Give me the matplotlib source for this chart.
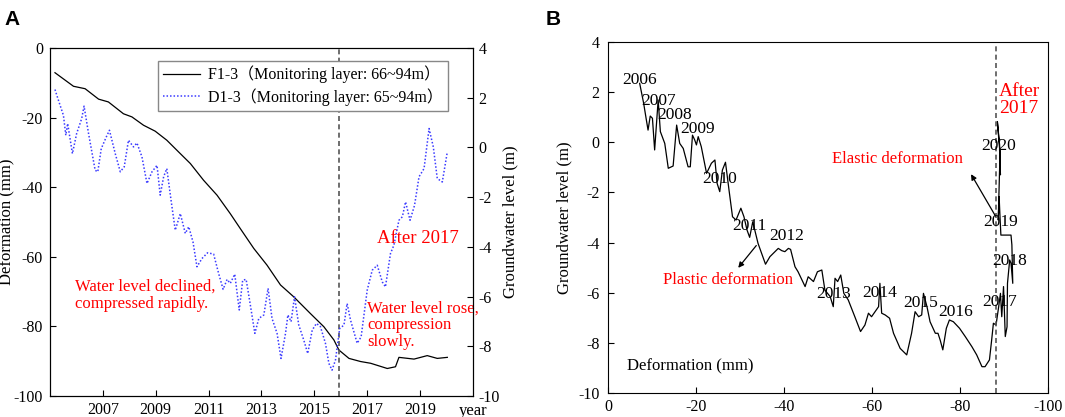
import matplotlib
matplotlib.use("Agg")
import matplotlib.pyplot as plt
from matplotlib.lines import Line2D

plt.rcParams['font.family'] = ['Liberation Serif', 'Noto Sans CJK SC', 'DejaVu Sans']
plt.rcParams['font.size'] = 12
plt.rcParams['axes.unicode_minus'] = False
plt.rcParams['xtick.labelsize'] = 11.5
plt.rcParams['ytick.labelsize'] = 11.5

# ---- panel A: deformation (F1-3) and groundwater level (D1-3) vs time ----
f_year = [2005.19, 2005.89, 2006.33, 2006.84, 2007.21, 2007.78, 2008.10, 2008.54, 2008.98,
          2009.42, 2009.87, 2010.31, 2010.81, 2011.32, 2011.82, 2012.20, 2012.71, 2013.21,
          2013.72, 2014.22, 2014.85, 2015.36, 2015.74, 2015.93, 2016.31, 2016.75, 2017.13,
          2017.76, 2018.07, 2018.20, 2018.77, 2019.27, 2019.65, 2020.03]
f_def = [-7.1, -11.0, -11.7, -14.7, -15.5, -18.9, -19.8, -22.2, -23.9,
         -26.5, -29.9, -33.2, -38.0, -42.3, -47.6, -51.9, -57.6, -62.4,
         -68.1, -71.5, -76.3, -80.1, -83.9, -86.8, -89.2, -90.1, -90.6,
         -92.1, -91.6, -88.9, -89.4, -88.4, -89.2, -88.9]

d_year = [2005.19, 2005.32, 2005.51, 2005.60, 2005.67, 2005.85, 2006.01, 2006.20, 2006.29,
          2006.46, 2006.71, 2006.81, 2006.94, 2007.13, 2007.25, 2007.47, 2007.66, 2007.81,
          2007.97, 2008.16, 2008.29, 2008.48, 2008.67, 2008.86, 2009.05, 2009.17, 2009.30,
          2009.42, 2009.58, 2009.74, 2009.93, 2010.12, 2010.25, 2010.41, 2010.56, 2010.75,
          2010.96, 2011.19, 2011.38, 2011.55, 2011.70, 2011.82, 2011.99, 2012.16, 2012.29,
          2012.42, 2012.56, 2012.75, 2012.90, 2013.09, 2013.25, 2013.40, 2013.59, 2013.74,
          2013.91, 2014.00, 2014.12, 2014.25, 2014.41, 2014.60, 2014.75, 2014.92, 2015.08,
          2015.23, 2015.42, 2015.55, 2015.67, 2015.80, 2015.96, 2016.12, 2016.24, 2016.37,
          2016.62, 2016.77, 2017.00, 2017.19, 2017.38, 2017.57, 2017.69, 2017.88, 2018.01,
          2018.20, 2018.33, 2018.45, 2018.62, 2018.79, 2018.96, 2019.15, 2019.34, 2019.50,
          2019.65, 2019.84, 2020.03]
d_gw = [2.33, 1.90, 1.29, 0.49, 0.96, -0.25, 0.56, 1.16, 1.66,
        0.56, -0.92, -0.98, -0.05, 0.42, 0.69, -0.25, -0.98, -0.78,
        0.29, 0.02, 0.18, -0.38, -1.45, -0.98, -0.72, -1.92, -1.18,
        -0.85, -2.12, -3.33, -2.66, -3.46, -3.19, -3.80, -4.80, -4.47,
        -4.24, -4.29, -5.07, -5.71, -5.31, -5.47, -5.10, -6.54, -5.34,
        -5.31, -6.21, -7.48, -6.88, -6.74, -5.67, -6.88, -7.48, -8.49,
        -7.48, -6.74, -7.01, -6.01, -7.14, -7.75, -8.29, -7.35, -7.08,
        -7.21, -7.88, -8.69, -8.96, -8.55, -7.28, -7.15, -6.28, -6.95,
        -7.88, -7.62, -5.74, -4.94, -4.74, -5.41, -5.61, -4.27, -3.93,
        -2.93, -2.79, -2.19, -2.93, -2.33, -1.18, -0.85, 0.76, 0.02,
        -1.25, -1.39, -0.18]

year_ticks = [2007, 2009, 2011, 2013, 2015, 2017, 2019]

# ---- panel B: groundwater level vs deformation ----
b_def = [-7.2, -8.1, -8.6, -9.1, -9.6, -10.1, -10.6, -11.4, -11.9, -12.9, -13.7, -14.8,
         -15.6, -16.3, -17.1, -18.2, -18.7, -19.2, -19.7, -20.1, -20.5, -21.2, -22.4, -23.5,
         -24.3, -24.8, -25.4, -26.0, -26.7, -27.5, -28.3, -29.1, -30.2, -30.9, -31.6, -32.2,
         -32.9, -34.1, -35.8, -36.8, -38.7, -39.5, -40.2, -41.0, -41.5, -42.5, -43.2, -44.8,
         -45.5, -46.7, -47.6, -48.6, -49.3, -50.5, -51.2, -51.6, -52.2, -52.9, -53.6, -54.6,
         -56.1, -57.4, -58.4, -59.2, -59.9, -60.7, -61.5, -61.8, -62.2, -63.0, -64.0, -64.9,
         -66.4, -67.9, -69.0, -69.8, -70.6, -71.3, -71.7, -72.5, -73.2, -74.4, -75.0, -75.5,
         -76.1, -76.9, -77.6, -78.5, -79.9, -81.2, -82.7, -83.8, -85.0, -85.7, -86.7, -87.2,
         -87.6, -88.2, -88.8, -89.2, -89.5, -89.9, -90.3, -90.7, -90.8, -91.3, -91.6, -92.0,
         -91.8, -91.6, -89.3, -89.1, -88.9, -88.7, -89.1, -88.5, -89.0, -89.2, -89.0]
b_gw = [2.34, 1.55, 1.01, 0.48, 1.04, 0.95, -0.31, 1.68, 0.42, -0.05, -1.04, -0.95,
        0.68, -0.05, -0.25, -0.98, -0.98, 0.28, 0.09, -0.11, 0.22, -0.18, -1.24, -0.84,
        -0.71, -1.64, -1.97, -1.11, -0.80, -1.90, -2.97, -3.10, -2.63, -2.97, -3.50, -3.79,
        -3.17, -4.03, -4.86, -4.56, -4.23, -4.32, -4.36, -4.23, -4.27, -4.96, -5.16, -5.75,
        -5.36, -5.55, -5.16, -5.09, -5.89, -6.15, -6.55, -5.42, -5.55, -5.29, -6.02, -6.28,
        -6.95, -7.54, -7.28, -6.81, -6.95, -6.75, -6.55, -5.62, -6.81, -6.88, -7.01, -7.61,
        -8.21, -8.47, -7.61, -6.75, -6.95, -6.88, -6.02, -6.55, -7.15, -7.61, -7.61, -7.88,
        -8.27, -7.41, -7.08, -7.15, -7.41, -7.74, -8.14, -8.47, -8.94, -8.94, -8.67, -7.88,
        -7.21, -7.28, -6.55, -6.02, -6.95, -5.75, -7.74, -7.35, -5.62, -4.69, -4.82, -5.62,
        -4.09, -3.70, -3.70, -2.97, -2.17, -3.10, -0.45, 0.82, -0.10, -1.30, -0.30]

# year labels along the curve in B
lab_text = ['2006', '2007', '2008', '2009', '2010', '2011', '2012', '2013', '2014',
            '2015', '2016', '2017', '2018', '2019', '2020']
lab_x = [-7.1, -11.4, -15.2, -20.3, -25.4, -32.2, -40.7, -51.2, -61.7,
         -71.1, -79.1, -89.0, -91.2, -89.3, -88.8]
lab_y = [2.47, 1.64, 1.08, 0.51, -1.47, -3.32, -3.74, -6.06, -6.02,
         -6.39, -6.75, -6.35, -4.73, -3.19, -0.14]

RED = '#ff0000'
BLUE = '#3a3aff'

fig = plt.figure(figsize=(10.65, 4.17), dpi=100)

# ================= A =================
ax = fig.add_axes([0.0469, 0.0504, 0.3972, 0.8345])
ax2 = ax.twinx()

ax.plot(f_year, f_def, color='black', lw=0.9)
ax2.plot(d_year, d_gw, color=BLUE, lw=1.1, linestyle=(0, (1, 1.3)))
ax.axvline(2015.93, color='#555555', lw=1.2, linestyle=(0, (3, 2)))

ax.set_xlim(2005, 2021)
ax.set_ylim(-100, 0)
ax.set_yticks(range(-100, 1, 20))
ax.set_xticks(year_ticks)
ax2.set_ylim(-10, 4)
ax2.set_yticks(range(-10, 5, 2))
ax.set_ylabel('Deformation (mm)')
ax.yaxis.set_label_coords(-0.082, 0.5)
ax2.set_ylabel('Groundwater level (m)', labelpad=2)
ax.tick_params(direction='in', length=4, pad=4)
ax.tick_params(axis='y', pad=5)
ax2.tick_params(direction='in', length=4, pad=4)
ax.text(1.0, -0.042, 'year', transform=ax.transAxes, ha='center', va='center')

ax.text(2005.95, -71.1, 'Water level declined,\ncompressed rapidly.', color=RED,
        ha='left', va='center', linespacing=1.05)
ax.text(2017.38, -54.7, 'After 2017', color=RED, fontsize=13.5, ha='left', va='center')
ax.text(2017.0, -79.6, 'Water level rose,\ncompression\nslowly.', color=RED,
        ha='left', va='center', linespacing=1.05)

handles = [Line2D([], [], color='black', lw=0.9),
           Line2D([], [], color=BLUE, lw=1.1, linestyle=(0, (1, 1.3)))]
labels = ['F1-3（Monitoring layer: 66~94m）', 'D1-3（Monitoring layer: 65~94m）']
leg = ax.legend(handles, labels, loc='upper right', bbox_to_anchor=(0.94, 0.963),
                borderaxespad=0, fancybox=False, framealpha=1, edgecolor='#888888',
                handlelength=2.3, handletextpad=0.5, borderpad=0.3, labelspacing=0.3,
                fontsize=11.5)
leg.get_frame().set_linewidth(1.0)

# ================= B =================
bx = fig.add_axes([0.5709, 0.0568, 0.4131, 0.8432])
bx.plot(b_def, b_gw, color='black', lw=0.9)
bx.axvline(-88.2, color='#555555', lw=1.2, linestyle=(0, (3, 2)))
bx.set_xlim(0, -100)
bx.set_ylim(-10, 4)
bx.set_xticks(range(0, -101, -20))
bx.set_yticks(range(-10, 5, 2))
bx.set_ylabel('Groundwater level (m)', labelpad=4)
bx.tick_params(direction='in', length=4, pad=4)
bx.tick_params(axis='y', pad=6)

for t, x, y in zip(lab_text, lab_x, lab_y):
    bx.text(x, y, t, ha='center', va='center', fontsize=12.5)

bx.text(-18.6, -8.94, 'Deformation (mm)', ha='center', va='center', fontsize=12)
bx.text(-88.8, 1.68, 'After\n2017', color=RED, fontsize=14, ha='left', va='center',
        linespacing=1.0)
bx.text(-65.9, -0.67, 'Elastic deformation', color=RED, fontsize=12, ha='center', va='center')
bx.text(-27.2, -5.49, 'Plastic deformation', color=RED, fontsize=12, ha='center', va='center')
bx.annotate('', xy=(-82.2, -1.18), xytext=(-88.4, -3.04),
            arrowprops=dict(arrowstyle='-|>', color='black', lw=0.9, mutation_scale=8))
bx.annotate('', xy=(-29.2, -5.09), xytext=(-34.1, -4.03),
            arrowprops=dict(arrowstyle='-|>', color='black', lw=0.9, mutation_scale=8))

fig.text(0.004, 0.975, 'A', fontsize=15, fontweight='bold', family='Liberation Sans',
         ha='left', va='top')
fig.text(0.512, 0.975, 'B', fontsize=15, fontweight='bold', family='Liberation Sans',
         ha='left', va='top')

fig.savefig('out.png', dpi=100)
